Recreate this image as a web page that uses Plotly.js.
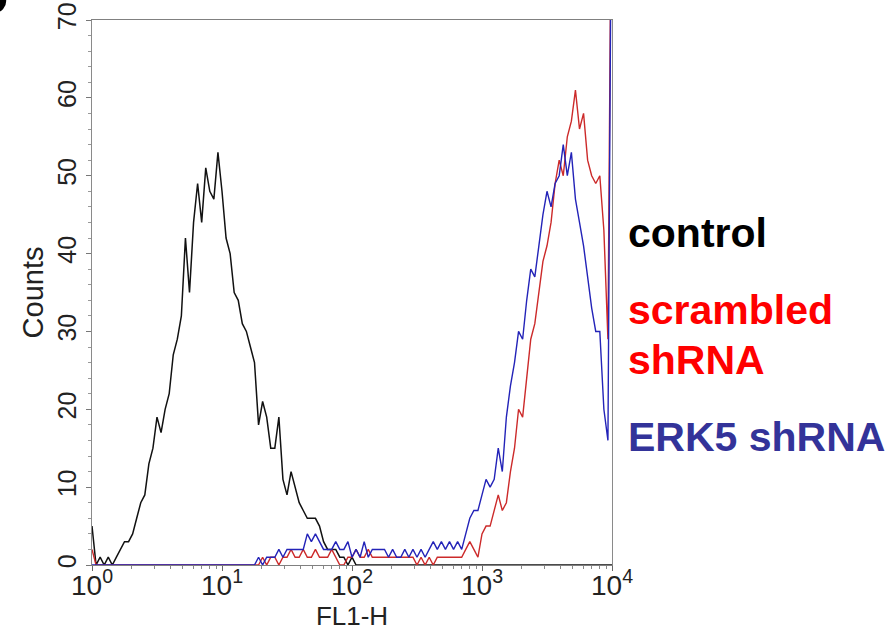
<!DOCTYPE html>
<html>
<head>
<meta charset="utf-8">
<script src="https://cdn.plot.ly/plotly-3.0.1.min.js"></script>
<style>
  html, body { margin: 0; padding: 0; background: #ffffff; }
  #chart { width: 892px; height: 632px; }
</style>
</head>
<body>
<div id="chart"></div>
<script>
// Histogram channels: 32 channels per decade, from 10^0 to 10^4 (FL1-H)
const channelsPerDecade = 32;
const channelIndex = Array.from({length: 129}, (_, i) => i);

// Counts per channel
const controlCounts = [
  5, 0, 1, 0, 1, 0, 1, 2, 3, 3,
  4, 6, 8, 9, 13, 15, 19, 17, 20, 22,
  27, 29, 32, 42, 35, 44, 49, 44, 51, 48,
  47, 53, 48, 42, 40, 35, 34, 31, 30, 28,
  26, 18, 21, 19, 15, 15, 19, 11, 9, 12,
  10, 8, 7, 6, 6, 6, 5, 3, 2, 2,
  2, 1, 1, 0, 1, 0, 0, 0, 0, 0,
  0, 0, 0, 0, 0, 0, 0, 0, 0, 0,
  0, 0, 0, 0, 0, 0, 0, 0, 0, 0,
  0, 0, 0, 0, 0, 0, 0, 0, 0, 0,
  0, 0, 0, 0, 0, 0, 0, 0, 0, 0,
  0, 0, 0, 0, 0, 0, 0, 0, 0, 0,
  0, 0, 0, 0, 0, 0, 0, 0, 0
];

const scrambledCounts = [
  2, 0, 0, 0, 0, 0, 0, 0, 0, 0,
  0, 0, 0, 0, 0, 0, 0, 0, 0, 0,
  0, 0, 0, 0, 0, 0, 0, 0, 0, 0,
  0, 0, 0, 0, 0, 0, 0, 0, 0, 0,
  0, 0, 1, 0, 1, 1, 0, 1, 1, 2,
  1, 1, 2, 1, 1, 2, 1, 1, 1, 2,
  1, 0, 0, 1, 1, 2, 1, 1, 2, 1,
  1, 1, 1, 1, 1, 1, 1, 1, 1, 1,
  0, 1, 0, 1, 0, 1, 1, 1, 1, 1,
  1, 1, 2, 3, 2, 1, 4, 5, 5, 7,
  9, 7, 8, 12, 15, 20, 19, 24, 29, 31,
  35, 39, 41, 44, 49, 52, 50, 55, 57, 61,
  56, 58, 52, 50, 49, 50, 43, 29, 100
];

const erk5Counts = [
  0, 0, 0, 0, 0, 0, 0, 0, 0, 0,
  0, 0, 0, 0, 0, 0, 0, 0, 0, 0,
  0, 0, 0, 0, 0, 0, 0, 0, 0, 0,
  0, 0, 0, 0, 0, 0, 0, 0, 0, 0,
  0, 1, 0, 1, 1, 1, 2, 1, 2, 2,
  2, 2, 2, 4, 3, 4, 3, 2, 2, 2,
  3, 2, 2, 3, 1, 2, 1, 3, 1, 2,
  2, 2, 2, 1, 2, 1, 1, 2, 1, 2,
  1, 2, 1, 2, 3, 2, 3, 2, 3, 2,
  3, 2, 4, 6, 7, 7, 9, 11, 10, 11,
  15, 12, 19, 23, 26, 30, 29, 34, 38, 37,
  41, 45, 48, 46, 49, 50, 54, 50, 53, 47,
  44, 41, 37, 33, 30, 30, 20, 16, 100
];

const seriesNames = ["control", "scrambled shRNA", "ERK5 shRNA"];
const lineColors = ["#111111", "#cc2a2a", "#2323b8"];
const labelColors = ["#000000", "#ff0000", "#333399"];
const xTickValues = [1, 10, 100, 1000, 10000];
const xTickLabels = ["10<sup>0</sup>", "10<sup>1</sup>", "10<sup>2</sup>", "10<sup>3</sup>", "10<sup>4</sup>"];
const yTickValues = [0, 10, 20, 30, 40, 50, 60, 70];

const fl1 = channelIndex.map(i => Math.pow(10, i / channelsPerDecade));
const allCounts = [controlCounts, scrambledCounts, erk5Counts];
const lineWidths = [1.5, 1.4, 1.4];

const traces = allCounts.map((counts, k) => ({
  type: "scatter",
  mode: "lines",
  x: fl1,
  y: counts,
  name: seriesNames[k],
  line: { color: lineColors[k], width: lineWidths[k], shape: "linear" },
  hoverinfo: "skip"
}));

const fontFamily = "Liberation Sans, Arial, Helvetica, sans-serif";

const layout = {
  width: 892,
  height: 632,
  margin: { l: 92, r: 280, t: 20, b: 67 },
  paper_bgcolor: "#ffffff",
  plot_bgcolor: "#ffffff",
  showlegend: false,
  font: { family: fontFamily, color: "#222222", size: 22 },
  xaxis: {
    type: "log",
    range: [0, 4],
    tickmode: "array",
    tickvals: xTickValues,
    ticktext: xTickLabels,
    tickfont: { family: fontFamily, size: 28, color: "#222222" },
    ticks: "outside",
    ticklen: 5,
    tickcolor: "#666666",
    ticklabelstandoff: -10,
    minor: { ticks: "outside", ticklen: 3, tickcolor: "#888888", dtick: "D1" },
    showline: true,
    linecolor: "#808080",
    linewidth: 1.2,
    mirror: true,
    showgrid: false,
    zeroline: false,
    automargin: false,
    title: { text: "FL1-H", font: { family: fontFamily, size: 26, color: "#222222" }, standoff: 0 }
  },
  yaxis: {
    range: [0, 70],
    tickmode: "array",
    tickvals: yTickValues,
    tickangle: -90,
    tickfont: { family: fontFamily, size: 25, color: "#222222" },
    ticks: "outside",
    ticklen: 5,
    tickcolor: "#777777",
    minor: { ticks: "outside", ticklen: 3, tickcolor: "#999999", dtick: 2 },
    showline: true,
    linecolor: "#8a8a8a",
    linewidth: 1.2,
    mirror: true,
    showgrid: false,
    zeroline: false,
    automargin: false,
    title: { text: "Counts", font: { family: fontFamily, size: 29, color: "#222222" }, standoff: 0 }
  },
  annotations: [
    { text: "<b>" + seriesNames[0] + "</b>", xref: "paper", yref: "paper", x: 1.027, y: 0.609,
      xanchor: "left", yanchor: "middle", showarrow: false,
      font: { family: fontFamily, size: 41, color: labelColors[0] } },
    { text: "<b>scrambled</b>", xref: "paper", yref: "paper", x: 1.027, y: 0.468,
      xanchor: "left", yanchor: "middle", showarrow: false,
      font: { family: fontFamily, size: 41, color: labelColors[1] } },
    { text: "<b>shRNA</b>", xref: "paper", yref: "paper", x: 1.027, y: 0.376,
      xanchor: "left", yanchor: "middle", showarrow: false,
      font: { family: fontFamily, size: 41, color: labelColors[1] } },
    { text: "<b>" + seriesNames[2] + "</b>", xref: "paper", yref: "paper", x: 1.027, y: 0.235,
      xanchor: "left", yanchor: "middle", showarrow: false,
      font: { family: fontFamily, size: 41, color: labelColors[2] } }
  ],
  shapes: [
    { type: "circle", xref: "paper", yref: "paper",
      x0: -0.205, x1: -0.165, y0: 1.014, y1: 1.056,
      fillcolor: "#000000", line: { width: 0 } }
  ]
};

Plotly.newPlot("chart", traces, layout, { staticPlot: true, displayModeBar: false });
</script>
</body>
</html>
